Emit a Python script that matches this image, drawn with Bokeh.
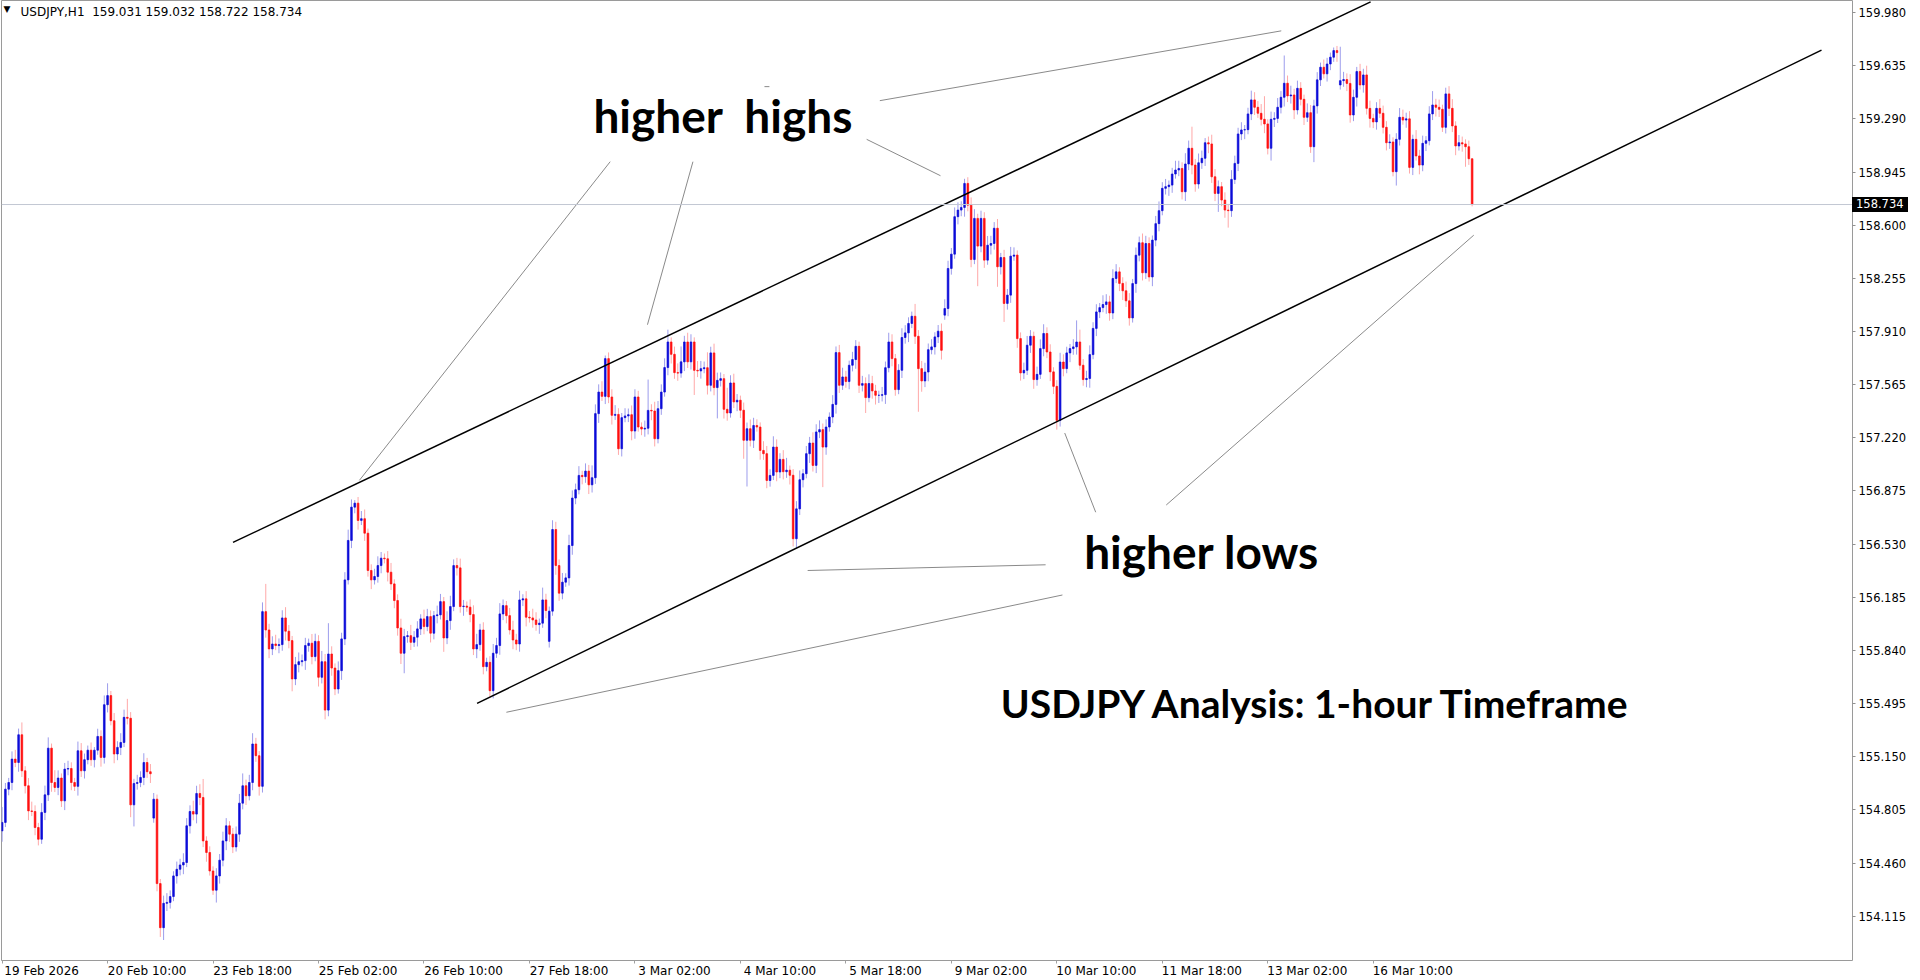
from bokeh.plotting import figure
from bokeh.models import ColumnDataSource, FixedTicker, PrintfTickFormatter, Span, Label, Range1d
from bokeh.embed import file_html
from bokeh.resources import INLINE

# ---------------- data ----------------
header_text = "USDJPY,H1\u00a0 159.031 159.032 158.722 158.734"
last_price = 158.734
last_price_text = "158.734"

first_open = 154.669
# Monday opens after weekend gaps (bar index -> open)
gap_opens = {46: 154.752, 166: 155.899, 286: 158.016, 406: 159.510}

closes = [
    154.724, 154.940, 154.983, 155.135, 155.113, 155.293, 155.059, 154.962, 154.799, 154.795,
    154.691, 154.615, 154.789, 154.903, 155.206, 154.983, 154.951, 155.012, 154.864, 155.070,
    155.074, 154.983, 154.958, 155.189, 155.059, 155.131, 155.193, 155.131, 155.193, 155.282,
    155.146, 155.488, 155.547, 155.384, 155.168, 155.211, 155.243, 155.406, 155.400, 154.838,
    154.977, 154.983, 155.016, 155.113, 155.053, 155.040, 154.875, 154.327, 154.041, 154.199,
    154.205, 154.243, 154.377, 154.420, 154.448, 154.464, 154.702, 154.795, 154.778, 154.912,
    154.886, 154.604, 154.529, 154.409, 154.284, 154.377, 154.479, 154.604, 154.702, 154.648,
    154.565, 154.648, 154.849, 154.962, 154.897, 154.983, 155.233, 155.157, 154.958, 156.092,
    155.973, 155.850, 155.882, 155.872, 155.878, 156.051, 155.965, 155.904, 155.655, 155.748,
    155.767, 155.774, 155.872, 155.887, 155.800, 155.899, 155.666, 155.767, 155.453, 155.817,
    155.726, 155.590, 155.709, 155.915, 156.298, 156.554, 156.770, 156.796, 156.684, 156.695,
    156.601, 156.359, 156.298, 156.320, 156.391, 156.439, 156.435, 156.348, 156.272, 156.164,
    155.986, 155.822, 155.930, 155.936, 155.893, 155.926, 155.980, 156.045, 155.995, 156.060,
    155.952, 156.066, 156.071, 156.157, 155.921, 156.034, 156.125, 156.391, 156.376, 156.125,
    156.128, 156.121, 156.073, 155.850, 155.878, 155.973, 155.735, 155.763, 155.579, 155.822,
    155.872, 156.077, 156.131, 156.066, 155.973, 155.908, 155.882, 156.168, 156.175, 156.056,
    156.051, 156.038, 156.008, 156.017, 156.168, 156.099, 156.095, 156.625, 156.391, 156.212,
    156.283, 156.311, 156.521, 156.829, 156.883, 156.976, 156.968, 157.004, 156.915, 156.961,
    157.377, 157.517, 157.489, 157.734, 157.485, 157.366, 157.372, 157.149, 157.351, 157.362,
    157.370, 157.264, 157.485, 157.290, 157.277, 157.282, 157.398, 157.394, 157.214, 157.409,
    157.517, 157.676, 157.842, 157.762, 157.643, 157.640, 157.713, 157.842, 157.713, 157.842,
    157.658, 157.654, 157.669, 157.675, 157.561, 157.771, 157.546, 157.593, 157.604, 157.405,
    157.381, 157.576, 157.453, 157.464, 157.399, 157.204, 157.279, 157.204, 157.300, 157.290,
    157.138, 157.117, 156.943, 156.976, 157.160, 156.998, 157.080, 157.000, 157.010, 156.977,
    156.565, 156.759, 156.948, 156.987, 157.117, 157.186, 157.041, 157.258, 157.273, 157.160,
    157.290, 157.355, 157.437, 157.773, 157.561, 157.615, 157.585, 157.691, 157.728, 157.814,
    157.561, 157.572, 157.481, 157.572, 157.524, 157.496, 157.496, 157.500, 157.675, 157.842,
    157.734, 157.533, 157.658, 157.871, 157.901, 157.962, 158.009, 157.879, 157.669, 157.589,
    157.647, 157.792, 157.810, 157.875, 157.912, 157.788, 158.059, 158.319, 158.412, 158.655,
    158.698, 158.715, 158.871, 158.730, 158.377, 158.644, 158.464, 158.644, 158.373, 158.470,
    158.481, 158.580, 158.330, 158.390, 158.092, 158.146, 158.399, 158.406, 157.864, 157.641,
    157.658, 157.821, 157.879, 157.598, 157.632, 157.799, 157.897, 157.777, 157.648, 157.554,
    157.333, 157.712, 157.669, 157.771, 157.799, 157.810, 157.842, 157.691, 157.598, 157.605,
    157.760, 157.930, 158.037, 158.065, 158.085, 158.102, 158.030, 158.254, 158.297, 158.222,
    158.174, 158.109, 157.998, 158.221, 158.405, 158.486, 158.291, 158.481, 158.264, 158.503,
    158.610, 158.694, 158.839, 158.850, 158.860, 158.932, 158.958, 158.968, 158.817, 158.997,
    159.099, 158.990, 158.867, 159.005, 159.034, 159.135, 159.127, 158.914, 158.806, 158.850,
    158.763, 158.698, 158.694, 158.897, 159.001, 159.192, 159.218, 159.220, 159.322, 159.413,
    159.365, 159.326, 159.287, 159.257, 159.099, 159.287, 159.293, 159.365, 159.430, 159.521,
    159.439, 159.445, 159.348, 159.488, 159.417, 159.300, 159.330, 159.109, 159.374, 159.543,
    159.625, 159.582, 159.646, 159.690, 159.733, 159.720, 159.538, 159.545, 159.520, 159.315,
    159.430, 159.597, 159.510, 159.575, 159.358, 159.293, 159.270, 159.358, 159.326, 159.235,
    159.135, 159.140, 158.947, 159.157, 159.300, 159.282, 159.290, 158.975, 159.157, 159.049,
    158.990, 159.131, 159.148, 159.322, 159.380, 159.365, 159.352, 159.235, 159.452, 159.358,
    159.244, 159.114, 159.135, 159.127, 159.109, 159.031, 158.734,
]

# wick lengths above / below the body, in pips (0.01 JPY)
upper_wick_pips = [
    10, 4, 3, 5, 6, 4, 8, 3, 5, 6,   4, 3, 6, 6, 7, 3, 8, 5, 3, 4,
    5, 4, 3, 6, 5, 4, 3, 5, 2, 5,    4, 6, 8, 3, 5, 4, 6, 5, 12, 4,
    3, 5, 4, 6, 3, 5, 4, 3, 3, 5,    6, 4, 3, 5, 4, 6, 5, 4, 7, 5,
    6, 12, 3, 4, 3, 5, 4, 6, 5, 3,   4, 5, 6, 8, 4, 5, 7, 4, 3, 6,
    18, 4, 5, 6, 4, 5, 7, 4, 3, 5,   6, 4, 5, 3, 6, 5, 4, 7, 5, 20,
    5, 3, 6, 4, 5, 7, 5, 2, 4, 5,    6, 3, 4, 5, 6, 4, 3, 5, 6, 3,
    4, 6, 5, 3, 7, 4, 5, 3, 6, 5,    4, 3, 6, 5, 3, 6, 7, 4, 5, 6,
    4, 3, 5, 6, 7, 4, 5, 3, 4, 6,    5, 7, 4, 3, 5, 6, 4, 6, 3, 5,
    4, 6, 5, 3, 8, 4, 3, 6, 5, 4,    6, 3, 7, 5, 4, 6, 3, 5, 4, 8,
    6, 5, 7, 2, 4, 5, 6, 4, 3, 5,    4, 6, 5, 4, 3, 5, 20, 4, 6, 5,
    5, 6, 8, 3, 5, 6, 10, 4, 6, 5,   3, 6, 5, 4, 10, 4, 6, 5, 4, 3,
    14, 5, 6, 4, 3, 5, 4, 6, 5, 4,   3, 6, 5, 4, 7, 5, 4, 6, 8, 3,
    4, 5, 6, 3, 5, 4, 7, 5, 6, 4,    5, 3, 6, 4, 5, 6, 4, 3, 5, 4,
    3, 5, 4, 6, 5, 4, 3, 5, 4, 6,    5, 3, 4, 6, 5, 4, 3, 8, 4, 5,
    6, 4, 5, 3, 4, 5, 6, 5, 4, 6,    5, 4, 3, 4, 5, 6, 3, 5, 4, 6,
    5, 4, 6, 3, 5, 4, 6, 5, 3, 4,    5, 6, 4, 3, 5, 6, 6, 4, 5, 3,
    4, 6, 5, 4, 3, 5, 14, 8, 4, 5,   6, 4, 5, 3, 6, 5, 4, 6, 5, 3,
    4, 6, 5, 3, 5, 4, 6, 5, 4, 3,    5, 6, 4, 5, 3, 4, 6, 5, 4, 7,
    5, 14, 4, 6, 5, 3, 4, 6, 5, 4,   3, 5, 4, 6, 5, 4, 5, 3, 4, 6,
    5, 4, 6, 15, 3, 5, 4, 6, 4, 18,  5, 6, 4, 5, 4, 3, 6, 5, 4, 5,
    3, 5, 4, 3, 2, 3, 22, 5, 4, 6,   5, 3, 5, 4, 6, 5, 3, 4, 6, 5,
    4, 5, 3, 4, 6, 5, 4, 5, 3, 6,    4, 5, 3, 5, 9, 4, 5, 3, 4, 5,
    6, 3, 5, 4, 3, 4, 0.1,
]
lower_wick_pips = [
    7, 3, 4, 5, 3, 6, 4, 5, 6, 3,    5, 4, 3, 5, 4, 6, 3, 5, 4, 6,
    4, 5, 3, 6, 4, 5, 3, 4, 5, 3,    6, 4, 5, 3, 6, 4, 5, 3, 4, 8,
    14, 4, 3, 5, 4, 6, 3, 5, 6, 8,   5, 4, 3, 5, 4, 6, 3, 5, 4, 6,
    5, 4, 6, 3, 3, 8, 5, 4, 6, 5,    4, 3, 5, 4, 6, 3, 5, 4, 6, 4,
    5, 6, 4, 3, 5, 4, 6, 5, 8, 4,    5, 3, 6, 4, 5, 3, 6, 4, 6, 4,
    5, 4, 3, 6, 4, 3, 5, 4, 6, 3,    5, 4, 6, 3, 4, 5, 3, 6, 4, 5,
    5, 7, 13, 4, 5, 3, 6, 4, 5, 3,   6, 4, 5, 3, 9, 4, 6, 3, 5, 4,
    6, 3, 5, 4, 6, 4, 5, 3, 4, 5,    3, 6, 4, 5, 3, 6, 4, 5, 4, 6,
    3, 5, 4, 6, 3, 5, 4, 3, 6, 5,    4, 3, 5, 6, 4, 3, 5, 4, 6, 5,
    4, 6, 3, 5, 4, 6, 3, 4, 5, 3,    4, 6, 5, 3, 4, 5, 4, 6, 5, 3,
    4, 3, 5, 6, 4, 5, 3, 6, 4, 5,    16, 4, 5, 3, 6, 4, 5, 20, 4, 6,
    5, 3, 4, 6, 5, 12, 30, 4, 5, 3,  6, 4, 5, 4, 3, 6, 4, 5, 4, 6,
    5, 6, 4, 5, 3, 6, 4, 5, 4, 26,   5, 3, 4, 6, 5, 3, 4, 5, 4, 6,
    5, 4, 10, 3, 5, 6, 5, 4, 6, 3,   5, 4, 3, 5, 4, 6, 3, 5, 28, 7,
    4, 6, 3, 5, 4, 6, 3, 5, 4, 3,    5, 4, 6, 4, 5, 3, 26, 4, 5, 3,
    6, 4, 13, 5, 12, 4, 5, 3, 6, 5,  4, 3, 5, 6, 4, 3, 5, 4, 6, 5,
    6, 4, 5, 3, 6, 4, 5, 3, 4, 5,    6, 3, 5, 4, 3, 6, 5, 4, 3, 5,
    6, 4, 5, 3, 6, 4, 5, 4, 3, 6,    4, 5, 3, 4, 6, 5, 3, 4, 5, 6,
    4, 6, 5, 3, 4, 5, 6, 4, 5, 12,   4, 5, 11, 4, 3, 5, 4, 6, 3, 4,
    5, 3, 4, 6, 4, 8, 5, 3, 4, 6,    4, 5, 6, 3, 4, 5, 3, 4, 10, 5,
    4, 3, 5, 4, 3, 6, 3, 4, 5, 5,    4, 6, 3, 5, 4, 6, 4, 5, 3, 4,
    5, 4, 3, 9, 4, 3, 5, 4, 5, 3,    6, 4, 5, 3, 4, 6, 5, 3, 4, 5,
    4, 6, 3, 5, 13, 4, 1.2,
]

time_tick_bars = [0, 32, 64, 96, 128, 160, 192, 224, 256, 288, 320, 352, 384, 416]
time_tick_labels = ["19 Feb 2026", "20 Feb 10:00", "23 Feb 18:00", "25 Feb 02:00",
                    "26 Feb 10:00", "27 Feb 18:00", "3 Mar 02:00", "4 Mar 10:00",
                    "5 Mar 18:00", "9 Mar 02:00", "10 Mar 10:00", "11 Mar 18:00",
                    "13 Mar 02:00", "16 Mar 10:00"]
price_ticks = [159.980, 159.635, 159.290, 158.945, 158.600, 158.255, 157.910, 157.565,
               157.220, 156.875, 156.530, 156.185, 155.840, 155.495, 155.150, 154.805,
               154.460, 154.115]

# drawn objects (bar index, price)
upper_channel_x = [70.05, 415.2]
upper_channel_y = [156.541, 160.0495]
lower_channel_x = [144.1, 552.0]
lower_channel_y = [155.497, 159.736]
pointer_x0 = [184.5, 209.6, 262.3, 266.3, 231.3, 322.4, 353.2, 244.4, 153.0]
pointer_y0 = [159.012, 159.012, 159.157, 159.408, 159.499, 157.251, 156.784, 156.359, 155.439]
pointer_x1 = [108.4, 195.8, 284.7, 388.1, 232.8, 331.8, 446.5, 316.6, 321.7]
pointer_y1 = [156.944, 157.954, 158.921, 159.861, 159.499, 156.737, 158.535, 156.396, 156.200]

# ---------------- build candles ----------------
n = len(closes)
opens = [first_open] + closes[:-1]
for k, v in gap_opens.items():
    opens[k] = v
tops = [max(o, c) for o, c in zip(opens, closes)]
bottoms = [min(o, c) for o, c in zip(opens, closes)]
highs = [t + u / 100.0 for t, u in zip(tops, upper_wick_pips)]
lows = [b - d / 100.0 for b, d in zip(bottoms, lower_wick_pips)]
bull = [c >= o for o, c in zip(opens, closes)]
BULL, BEAR = "#0c0cd8", "#ff1010"
BULL_W, BEAR_W = "#9c9cec", "#ffa8a8"

src = ColumnDataSource(dict(
    x=list(range(n)), top=tops, bottom=bottoms, high=highs, low=lows,
    body=[BULL if b else BEAR for b in bull],
    wick=[BULL_W if b else BEAR_W for b in bull],
))

PX_PER_BAR = 3.296
x_start = -0.6 / PX_PER_BAR
x_end = x_start + 1851 / PX_PER_BAR
Y_LO, Y_HI = 153.828, 160.058
FRAME_H = 960

p = figure(width=1920, height=980, output_backend="svg", toolbar_location=None,
           x_range=Range1d(x_start, x_end), y_range=Range1d(Y_LO, Y_HI),
           y_axis_location="right",
           min_border_left=1, min_border_right=68, min_border_top=0, min_border_bottom=20)
p.background_fill_color = "white"
p.border_fill_color = "white"
p.outline_line_color = "#9a9a9a"
p.outline_line_width = 1
p.grid.visible = False

# axes
xa = p.xaxis[0]
label_ticks = [b + 12 for b in time_tick_bars]
xa.ticker = FixedTicker(ticks=label_ticks, minor_ticks=time_tick_bars)
xa.major_label_overrides = {t: lab for t, lab in zip(label_ticks, time_tick_labels)}
xa.major_tick_line_color = None
xa.major_tick_out = 0
xa.major_tick_in = 0
xa.minor_tick_line_color = "#a0a0a0"
xa.minor_tick_out = 3
xa.minor_tick_in = 0
xa.axis_line_color = None
xa.major_label_standoff = 0
xa.major_label_text_font = "DejaVu Sans"
xa.major_label_text_font_size = "12px"
xa.major_label_text_color = "#000000"

ya = p.yaxis[0]
ya.ticker = FixedTicker(ticks=price_ticks)
ya.formatter = PrintfTickFormatter(format="%.3f")
ya.axis_line_color = None
ya.major_tick_line_color = "#909090"
ya.major_tick_out = 3
ya.major_tick_in = 0
ya.minor_tick_line_color = None
ya.major_label_standoff = 3
ya.major_label_text_font = "DejaVu Sans"
ya.major_label_text_font_size = "11.5px"
ya.major_label_text_color = "#000000"

# current price line
p.add_layout(Span(location=last_price, dimension="width", line_color="#c3c8d3", line_width=1))

# candles
p.segment(x0="x", y0="low", x1="x", y1="high", source=src, line_color="wick", line_width=1)
p.vbar(x="x", top="top", bottom="bottom", width=0.5, source=src,
       fill_color="body", line_color="body", line_width=0.7)

# channel lines
p.line(upper_channel_x, upper_channel_y, line_color="black", line_width=1.5)
p.line(lower_channel_x, lower_channel_y, line_color="black", line_width=1.5)
# pointer lines
p.segment(x0=pointer_x0, y0=pointer_y0, x1=pointer_x1, y1=pointer_y1,
          line_color="#8a8a8a", line_width=1)

# texts
def add_text(x, y, text, size, font="Lato", style="bold", color="black", baseline="alphabetic"):
    p.add_layout(Label(x=x, y=y, text=text, text_font=font, text_font_style=style,
                       text_font_size=size, text_color=color, text_baseline=baseline,
                       text_align="left"))

add_text(179.4, 159.313, "higher \u00a0highs", "46px")
add_text(328.3, 156.484, "higher lows", "46px")
add_text(303.0, 155.502, "USDJPY Analysis: 1-hour Timeframe", "39px")

# header
add_text(0.42, 160.000, "\u25bc", "9px", font="DejaVu Sans", style="normal", baseline="middle")
add_text(5.6, 159.983, header_text, "12px", font="DejaVu Sans", style="normal", baseline="middle")

# last price box on the price scale: a DOM element laid over the axis panel
box_top_px = (Y_HI - last_price) / (Y_HI - Y_LO) * FRAME_H - 7.5
box_style = {
    "position": "absolute", "left": "1852px", "top": "%.1fpx" % box_top_px,
    "background-color": "black", "color": "white", "font-family": "DejaVu Sans",
    "font-size": "11.5px", "line-height": "15px", "padding": "0px 4px",
    "z-index": "10", "white-space": "nowrap",
}
try:
    from bokeh.models.dom import Div as DOMDiv
    p.elements = [DOMDiv(children=[last_price_text], style=box_style)]
except Exception:
    try:
        from bokeh.models import Div
        p.elements = [Div(text=last_price_text, styles=box_style)]
    except Exception:
        pass

open("out.html", "w").write(file_html(p, INLINE))
